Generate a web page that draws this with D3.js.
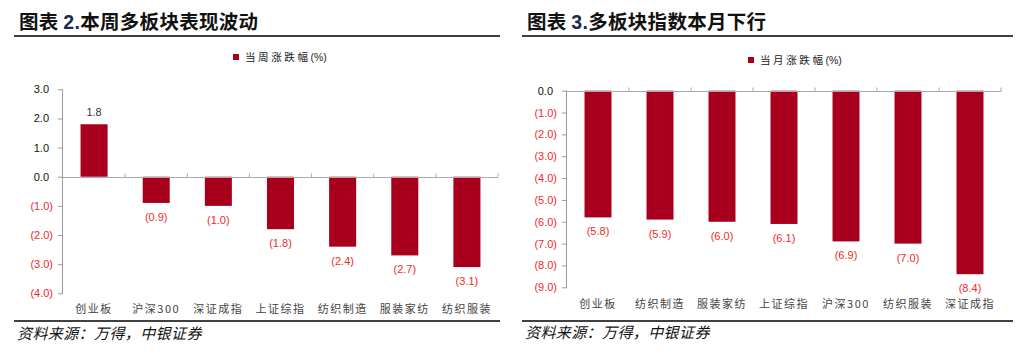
<!DOCTYPE html>
<html>
<head>
<meta charset="utf-8">
<script src="https://cdn.jsdelivr.net/npm/d3@7"></script>
<style>
  body { margin: 0; background: #fff; }
  svg { display: block; }
</style>
</head>
<body>
<div id="chart"></div>
<script>
// week panel
const weekCats = ["创业板", "沪深300", "深证成指", "上证综指", "纺织制造", "服装家纺", "纺织服装"];
const weekVals = [1.8, -0.9, -1.0, -1.8, -2.4, -2.7, -3.1];
const weekTicks = [3, 2, 1, 0, -1, -2, -3, -4];

// month panel
const monthCats = ["创业板", "纺织制造", "服装家纺", "上证综指", "沪深300", "纺织服装", "深证成指"];
const monthVals = [-5.8, -5.9, -6.0, -6.1, -6.9, -7.0, -8.4];
const monthTicks = [0, -1, -2, -3, -4, -5, -6, -7, -8, -9];

const W = 1031, H = 364;
const barColor = "#a8001c";
const negColor = "#f02a2a";
const numFont = "'Liberation Sans', Arial, sans-serif";
const cjkFont = "'Noto Sans CJK SC', sans-serif";

const svg = d3.select("#chart").append("svg")
  .attr("width", W)
  .attr("height", H);

const fmt = v => v < 0 ? `(${Math.abs(v).toFixed(1)})` : v.toFixed(1);

function drawPanel(p) {
  const g = svg.append("g");

  // title + rules
  const title = g.append("text")
    .attr("x", p.titleX)
    .attr("y", 29)
    .attr("font-family", cjkFont)
    .attr("font-weight", "bold")
    .attr("font-size", 19.5)
    .attr("letter-spacing", 0.3)
    .attr("fill", "#111");
  title.append("tspan").text("图表 ");
  title.append("tspan").attr("font-family", numFont).attr("fill", "#1a2a50").text(p.num);
  title.append("tspan").text(p.title);

  g.append("line")
    .attr("x1", p.ruleX[0]).attr("x2", p.ruleX[1])
    .attr("y1", 36).attr("y2", 36)
    .attr("stroke", "#000").attr("stroke-width", 1.5);
  g.append("line")
    .attr("x1", p.ruleX[0]).attr("x2", p.ruleX[1])
    .attr("y1", 321).attr("y2", 321)
    .attr("stroke", "#000").attr("stroke-width", 1.5);

  g.append("text")
    .attr("x", p.titleX - 2)
    .attr("y", p.footY)
    .attr("font-family", cjkFont)
    .attr("font-style", "italic")
    .attr("font-size", 15)
    .attr("letter-spacing", 0.4)
    .attr("fill", "#111")
    .text("资料来源：万得，中银证券");

  // legend
  g.append("rect")
    .attr("x", p.legend[0]).attr("y", p.legend[1] - 3)
    .attr("width", 6).attr("height", 6)
    .attr("fill", barColor);
  const lt = g.append("text")
    .attr("x", p.legend[0] + 12)
    .attr("y", p.legend[1] + 4)
    .attr("font-family", cjkFont)
    .attr("font-size", 10.5)
    .attr("fill", "#222");
  lt.append("tspan").attr("letter-spacing", 2.6).text(p.legendText[0]);
  lt.append("tspan").attr("font-family", numFont).text(p.legendText[1]);

  const x = d3.scaleBand()
    .domain(p.cats)
    .range(p.xRange)
    .paddingInner(0.565)
    .paddingOuter(0.2825);

  const y = d3.scaleLinear()
    .domain(p.yDomain)
    .range(p.yRange);

  // y axis
  const yAxis = g.append("g")
    .attr("transform", `translate(${p.xRange[0]},0)`)
    .call(d3.axisLeft(y).tickValues(p.ticks).tickSize(5).tickFormat(fmt));
  yAxis.select(".domain").attr("stroke", "#999").attr("d", `M-0.5,${p.yRange[0]}V${p.yRange[1]}`);
  yAxis.selectAll(".tick line").attr("stroke", "#999");
  yAxis.selectAll(".tick text")
    .attr("x", d => d < 0 ? -10 : -14)
    .attr("font-family", numFont)
    .attr("font-size", 11)
    .attr("fill", d => d < 0 ? negColor : "#111");

  // bars
  g.selectAll(".bar")
    .data(p.vals)
    .enter()
    .append("rect")
    .attr("class", "bar")
    .attr("x", (d, i) => x(p.cats[i]))
    .attr("y", d => y(Math.max(0, d)))
    .attr("width", x.bandwidth())
    .attr("height", d => Math.abs(y(d) - y(0)))
    .attr("fill", barColor);

  // zero line with ticks between categories
  const step = x.step();
  const z = Math.round(y(0)) + 0.5;
  g.append("line")
    .attr("x1", p.xRange[0]).attr("x2", p.xRange[1])
    .attr("y1", z).attr("y2", z)
    .attr("stroke", "#aaa");
  g.selectAll(".xtick")
    .data(d3.range(1, p.cats.length + 1))
    .enter()
    .append("line")
    .attr("x1", i => p.xRange[0] + i * step)
    .attr("x2", i => p.xRange[0] + i * step)
    .attr("y1", z - 4).attr("y2", z)
    .attr("stroke", "#aaa");

  // value labels
  g.selectAll(".val")
    .data(p.vals)
    .enter()
    .append("text")
    .attr("x", (d, i) => x(p.cats[i]) + x.bandwidth() / 2)
    .attr("y", d => d < 0 ? y(d) + 18 : y(d) - 8)
    .attr("text-anchor", "middle")
    .attr("font-family", numFont)
    .attr("font-size", 11)
    .attr("fill", d => d < 0 ? negColor : "#333")
    .text(fmt);

  // category labels
  g.selectAll(".cat")
    .data(p.cats)
    .enter()
    .append("text")
    .attr("x", d => x(d) + x.bandwidth() / 2)
    .attr("y", p.catY)
    .attr("text-anchor", "middle")
    .attr("font-family", cjkFont)
    .attr("font-size", 11)
    .attr("letter-spacing", 1.5)
    .attr("fill", "#444")
    .text(d => d);
}

drawPanel({
  num: "2.",
  title: "本周多板块表现波动",
  titleX: 19,
  ruleX: [14, 500],
  footY: 339,
  legend: [233, 57],
  legendText: ["当周涨跌幅", "(%)"],
  cats: weekCats,
  vals: weekVals,
  ticks: weekTicks,
  xRange: [63, 498],
  yDomain: [-4, 3],
  yRange: [293.3, 89.3],
  catY: 313
});

drawPanel({
  num: "3.",
  title: "多板块指数本月下行",
  titleX: 527,
  ruleX: [522, 1013],
  footY: 338,
  legend: [748, 60],
  legendText: ["当月涨跌幅", "(%)"],
  cats: monthCats,
  vals: monthVals,
  ticks: monthTicks,
  xRange: [567, 1001],
  yDomain: [-9, 0],
  yRange: [287.3, 90.7],
  catY: 308
});
</script>
</body>
</html>
